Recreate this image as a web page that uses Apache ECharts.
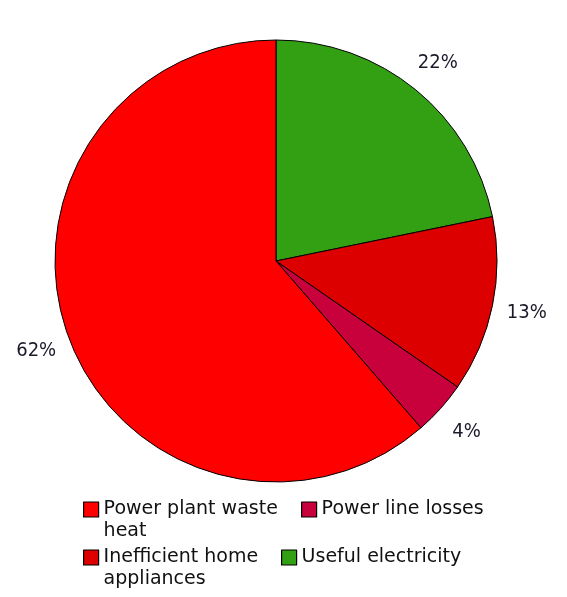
<!DOCTYPE html>
<html><head><meta charset="utf-8">
<script src="https://cdn.jsdelivr.net/npm/echarts@6/dist/echarts.min.js"></script>
<style>html,body{margin:0;padding:0;background:#fff}#c{width:567px;height:597px}</style>
</head><body><div id="c"></div>
<script>
// Slices, clockwise from 12 o'clock
const categories = ['Useful electricity', 'Inefficient home appliances', 'Power line losses', 'Power plant waste heat'];
const values = [22, 13, 4, 62];
const colors = ['#33a014', '#dd0000', '#c8003c', '#ff0000'];
// Legend labels (wrapped as in the reference)
const legendLabels = {
  'Power plant waste heat': 'Power plant waste\nheat',
  'Power line losses': 'Power line losses',
  'Inefficient home appliances': 'Inefficient home\nappliances',
  'Useful electricity': 'Useful electricity'
};

const data = categories.map((n, i) => ({name: n, value: values[i], itemStyle: {color: colors[i]}}));
const LH = 22;
function legendFor(name, left, top) {
  const twoLine = legendLabels[name].indexOf('\n') >= 0;
  return {
    data: [name], left: left, top: top, padding: 0, orient: 'horizontal',
    icon: 'rect', itemWidth: 15, itemHeight: 15, selectedMode: false,
    itemStyle: {borderColor: '#000', borderWidth: 1.2},
    formatter: n => (twoLine ? ' \n' : '') + legendLabels[n],
    textStyle: {fontFamily: 'DejaVu Sans', fontSize: 19, color: '#111', lineHeight: LH}
  };
}
const chart = echarts.init(document.getElementById('c'), null, {renderer: 'canvas'});
chart.setOption({
  animation: false,
  backgroundColor: '#fff',
  legend: [
    legendFor('Power plant waste heat', 83, 476.5),
    legendFor('Power line losses', 301, 498.5),
    legendFor('Inefficient home appliances', 83, 524.5),
    legendFor('Useful electricity', 281, 546.5)
  ],
  series: [
    {
      type: 'pie', center: [276, 261], radius: 221, startAngle: 90, clockwise: true,
      silent: true, z: 2,
      itemStyle: {borderColor: '#000', borderWidth: 1},
      label: {show: false}, labelLine: {show: false},
      data: data
    },
    {
      type: 'pie', center: [276, 261], radius: [0, 506], startAngle: 90, clockwise: true,
      silent: true, z: 1,
      itemStyle: {color: 'rgba(0,0,0,0)', borderWidth: 0},
      label: {show: true, position: 'inside', formatter: '{c}%', color: '#1a1a2a',
        fontFamily: 'DejaVu Sans Condensed', fontSize: 20},
      labelLine: {show: false},
      data: categories.map((n, i) => ({name: n, value: values[i]}))
    }
  ]
});
</script></body></html>
